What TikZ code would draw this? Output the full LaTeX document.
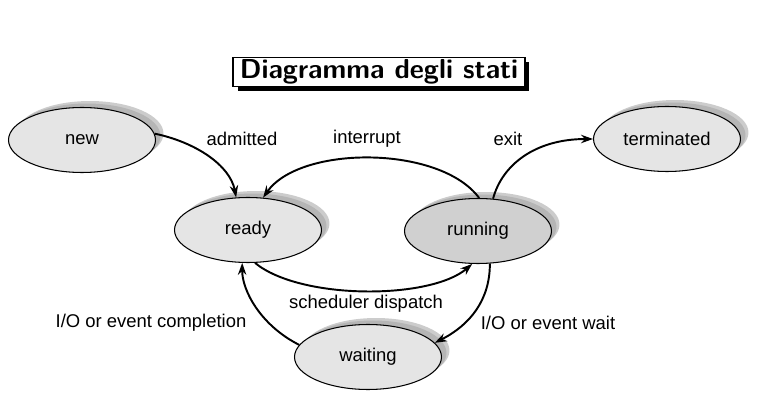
\documentclass[tikz,border=0pt]{standalone}
\usepackage{fontspec}
\setmainfont{Liberation Sans}
\setsansfont{Latin Modern Sans}
\usetikzlibrary{shapes.geometric,shadows,arrows.meta}
\begin{document}
\begin{tikzpicture}[x=0.02cm,y=-0.02cm,
  state/.style={ellipse,draw=black,line width=0.6pt,fill=gray!20,
    minimum width=2.94cm,minimum height=1.3cm,inner sep=0pt,
    font=\fontsize{10.5}{12}\selectfont,
    general shadow={shadow xshift=0.16cm,shadow yshift=0.13cm,fill=gray!40},
    general shadow={shadow xshift=0.10cm,shadow yshift=0.08cm,fill=gray!58}},
  lbl/.style={font=\fontsize{10.5}{12}\selectfont,inner sep=0pt},
  conn/.style={line width=1.1pt,-{Stealth[length=6.8pt,width=4.8pt]}}]
\useasboundingbox (0,0) rectangle (767,418);
% title
\node[draw=black,line width=0.8pt,fill=white,minimum width=5.84cm,minimum height=0.58cm,inner sep=0pt,
  general shadow={shadow xshift=0.09cm,shadow yshift=-0.09cm,fill=black},
  font=\fontsize{15.6}{17}\selectfont\sffamily\bfseries] (title) at (379,72) {Diagramma degli stati};
% states
\node[state] (new) at (82,140) {new};
\node[state] (ready) at (248,230) {ready};
\node[state,fill=gray!37] (running) at (478,231) {running};
\node[state] (term) at (667,139) {terminated};
\node[state] (waiting) at (368,357) {waiting};
% labels
\node[lbl] (ladm) at (242,139) {admitted};
\node[lbl] (lint) at (367,139) {interrupt};
\node[lbl] (lexit) at (508,139) {exit};
\node[lbl] (lsched) at (366,304) {scheduler dispatch};
\node[lbl] (lcomp) at (151,323) {I/O or event completion};
\node[lbl] (lwait) at (548,323) {I/O or event wait};
% connectors
\draw[conn] (new.5) .. controls (195,142) and (230,165) .. (ready.110);
\draw[conn] (running.88) .. controls (440,145) and (300,145) .. (ready.65);
\draw[conn] (running.65) .. controls (502,165) and (535,139) .. (term.west);
\draw[conn] (ready.-78) .. controls (300,300) and (430,300) .. (running.-100);
\draw[conn] (running.-70) .. controls (490,300) and (470,325) .. (waiting.12);
\draw[conn] (waiting.170) .. controls (260,325) and (242,290) .. (ready.-100);
\end{tikzpicture}
\end{document}
